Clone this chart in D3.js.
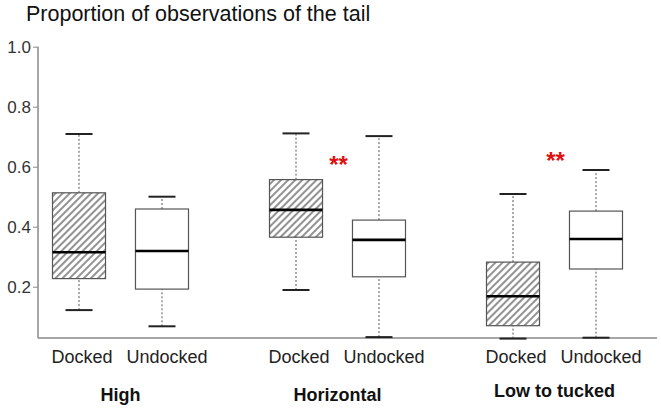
<!DOCTYPE html>
<html>
<head>
<meta charset="utf-8">
<script src="https://cdn.jsdelivr.net/npm/d3@7"></script>
<style>
  body { margin: 0; background: #fff; }
  svg { font-family: "Liberation Sans", Arial, sans-serif; }
</style>
</head>
<body>
<svg width="661" height="408"></svg>
<script>
const groups = ['High', 'Horizontal', 'Low to tucked'];
const tails = ['Docked', 'Undocked'];
// [whiskerLow, q1, median, q3, whiskerHigh] per group, per tail
const docked   = [[0.122, 0.227, 0.315, 0.513, 0.709],
                  [0.189, 0.365, 0.456, 0.557, 0.711],
                  [0.027, 0.070, 0.168, 0.282, 0.509]];
const undocked = [[0.068, 0.192, 0.319, 0.459, 0.500],
                  [0.032, 0.233, 0.356, 0.422, 0.702],
                  [0.030, 0.259, 0.359, 0.452, 0.589]];
const signif = ['', '**', '**'];
const yTicks = [0.2, 0.4, 0.6, 0.8, 1.0];

const boxes = [];
groups.forEach((g, i) => {
  boxes.push({group: g, tail: 'Docked', v: docked[i]});
  boxes.push({group: g, tail: 'Undocked', v: undocked[i]});
});

const svg = d3.select('svg');

const xGroup = d3.scaleBand()
  .domain(groups)
  .range([12, 663]);
const xTail = d3.scaleBand()
  .domain(tails)
  .range([40.5, 176.5])
  .paddingInner(0.361);
const y = d3.scaleLinear()
  .domain([0.029, 1.0])
  .range([338, 46.7]);

const defs = svg.append('defs');
const pat = defs.append('pattern')
  .attr('id', 'hatch')
  .attr('patternUnits', 'userSpaceOnUse')
  .attr('width', 5)
  .attr('height', 5)
  .attr('patternTransform', 'rotate(45)');
pat.append('rect').attr('width', 5).attr('height', 5).attr('fill', '#fff');
pat.append('line')
  .attr('x1', 1).attr('y1', 0).attr('x2', 1).attr('y2', 5)
  .attr('stroke', '#777').attr('stroke-width', 1.6);

// title
svg.append('text')
  .attr('x', 26).attr('y', 21)
  .attr('font-size', 21.5)
  .attr('fill', '#111')
  .text('Proportion of observations of the tail');

// axes
const yAxis = svg.append('g')
  .attr('transform', 'translate(38,0)')
  .call(d3.axisLeft(y).tickValues(yTicks).tickFormat(d3.format('.1f')).tickSize(5).tickPadding(2).tickSizeOuter(0));
yAxis.select('.domain').attr('stroke', '#888').attr('stroke-width', 1.5)
  .attr('d', `M0,${y(1.0)}V338`);
yAxis.selectAll('.tick line').attr('stroke', '#888');
yAxis.selectAll('.tick text')
  .attr('font-size', 17).attr('fill', '#333')
  .attr('font-family', '"Liberation Sans", Arial, sans-serif');

svg.append('line')
  .attr('x1', 38).attr('x2', 657)
  .attr('y1', 338).attr('y2', 338)
  .attr('stroke', '#888').attr('stroke-width', 1.5);

const bx = d => xGroup(d.group) + xTail(d.tail);
const bw = xTail.bandwidth();

const g = svg.append('g').selectAll('g.box')
  .data(boxes)
  .enter()
  .append('g')
  .classed('box', true);

// whiskers
g.append('line')
  .attr('x1', d => bx(d) + bw / 2).attr('x2', d => bx(d) + bw / 2)
  .attr('y1', d => y(d.v[3])).attr('y2', d => y(d.v[4]))
  .attr('stroke', '#555').attr('stroke-dasharray', '2,2');
g.append('line')
  .attr('x1', d => bx(d) + bw / 2).attr('x2', d => bx(d) + bw / 2)
  .attr('y1', d => y(d.v[0])).attr('y2', d => y(d.v[1]))
  .attr('stroke', '#555').attr('stroke-dasharray', '2,2');
// caps
[0, 4].forEach(k => {
  g.append('line')
    .attr('x1', d => bx(d) + bw / 2 - 13.5).attr('x2', d => bx(d) + bw / 2 + 13.5)
    .attr('y1', d => y(d.v[k])).attr('y2', d => y(d.v[k]))
    .attr('stroke', '#222').attr('stroke-width', 2);
});
// box
g.append('rect')
  .attr('x', d => bx(d))
  .attr('width', bw)
  .attr('y', d => y(d.v[3]))
  .attr('height', d => y(d.v[1]) - y(d.v[3]))
  .attr('fill', d => d.tail === 'Docked' ? 'url(#hatch)' : '#fff')
  .attr('stroke', '#555').attr('stroke-width', 1.2);
// median
g.append('line')
  .attr('x1', d => bx(d)).attr('x2', d => bx(d) + bw)
  .attr('y1', d => y(d.v[2])).attr('y2', d => y(d.v[2]))
  .attr('stroke', '#000').attr('stroke-width', 2.6);

// significance stars
svg.selectAll('text.sig')
  .data(groups)
  .enter()
  .append('text')
  .classed('sig', true)
  .attr('x', (d, i) => xGroup(d) + xTail.range()[0] + bw + 16)
  .attr('y', (d, i) => i === 1 ? 173 : 169)
  .attr('text-anchor', 'middle')
  .attr('font-size', 24)
  .attr('font-weight', 'bold')
  .attr('fill', '#e01010')
  .text((d, i) => signif[i]);

// category labels
svg.append('g').selectAll('text')
  .data(boxes)
  .enter()
  .append('text')
  .attr('x', d => bx(d) + bw / 2 + (d.tail === 'Docked' ? 3 : 5))
  .attr('y', 363)
  .attr('text-anchor', 'middle')
  .attr('font-size', 18)
  .attr('fill', '#222')
  .text(d => d.tail);

svg.append('g').selectAll('text')
  .data(groups)
  .enter()
  .append('text')
  .attr('x', d => xGroup(d) + xGroup.bandwidth() / 2)
  .attr('y', (d, i) => i === 2 ? 397 : 401)
  .attr('text-anchor', 'middle')
  .attr('font-size', 18)
  .attr('font-weight', 'bold')
  .attr('fill', '#111')
  .text(d => d);
</script>
</body>
</html>
